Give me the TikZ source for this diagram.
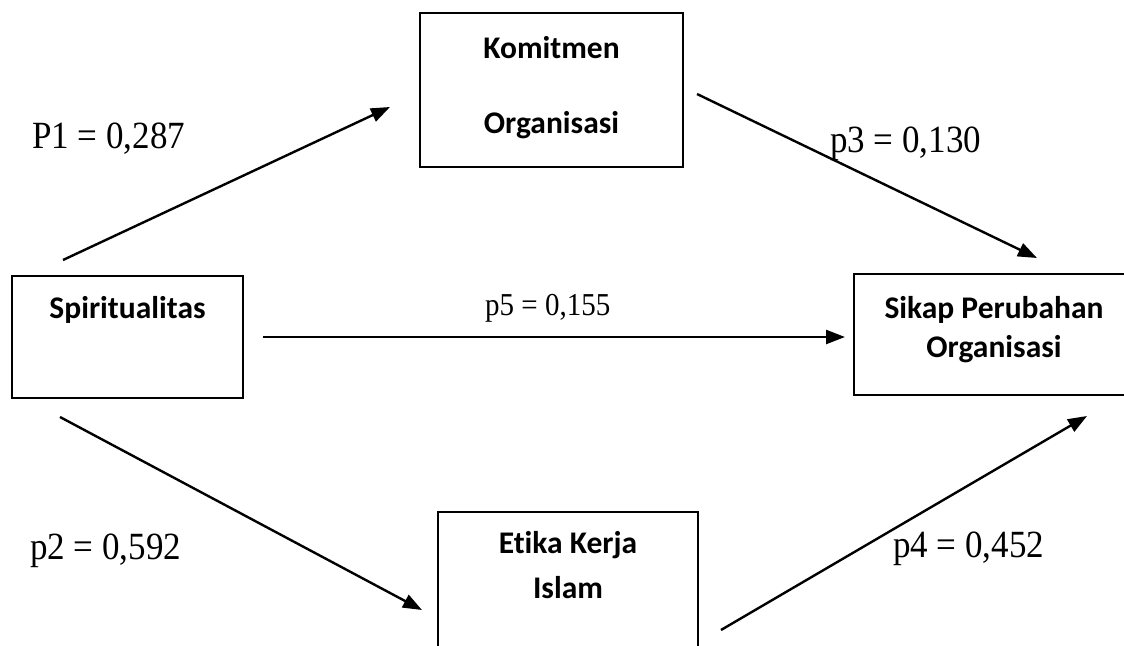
\documentclass[tikz,border=0pt]{standalone}
\usepackage{fontspec}
\usepackage{graphicx}
\setmainfont{Liberation Serif}
\newfontfamily\boxfont[Ligatures=NoCommon]{Carlito}
\usetikzlibrary{arrows.meta}
\newcommand{\tallcoef}[1]{\scalebox{1}[1.1]{#1}}
\begin{document}
\begin{tikzpicture}[x=1pt,y=-1pt,
  varbox/.style={draw,line width=2.6pt,rectangle,inner sep=0pt},
  boxtext/.style={anchor=base,inner sep=0pt,font=\boxfont\bfseries\fontsize{31.5}{36}\selectfont},
  coef/.style={anchor=base west,inner sep=0pt,font=\fontsize{35}{40}\selectfont},
  path/.style={line width=2.4pt,-{Triangle[length=19pt,width=14pt]}}]
\clip (0,0) rectangle (1124,645);
\fill[white] (0,0) rectangle (1124,645);
% boxes
\node[varbox,minimum width=263pt,minimum height=154pt] (kom) at (551.5,90) {};
\node[varbox,minimum width=231pt,minimum height=122pt] (spi) at (127.5,337) {};
\node[varbox,minimum width=280pt,minimum height=121pt] (sik) at (994,334.5) {};
\node[varbox,minimum width=260pt,minimum height=188pt] (eti) at (568,606) {};
% box texts
\node[boxtext] (komA) at (551.5,58) {Komitmen};
\node[boxtext] (komB) at (551.5,133) {Organisasi};
\node[boxtext] (spiA) at (127.5,318) {Spiritualitas};
\node[boxtext] (sikA) at (994,318) {Sikap Perubahan};
\node[boxtext] (sikB) at (994,357) {Organisasi};
\node[boxtext] (etiA) at (568,553) {Etika Kerja};
\node[boxtext] (etiB) at (568,598) {Islam};
% arrow endpoints
\coordinate (a1s) at (63,260);  \coordinate (a1e) at (390,107);
\coordinate (a3s) at (697,94);  \coordinate (a3e) at (1037,258);
\coordinate (a5s) at (263,337); \coordinate (a5e) at (845,337);
\coordinate (a2s) at (60,417);  \coordinate (a2e) at (422,610);
\coordinate (a4s) at (721,630); \coordinate (a4e) at (1087,416);
\draw[path] (a1s) -- (a1e);
\draw[path] (a3s) -- (a3e);
\draw[path] (a5s) -- (a5e);
\draw[path] (a2s) -- (a2e);
\draw[path] (a4s) -- (a4e);
% coefficients
\node[coef] (c1) at (32,148) {\tallcoef{P1 = 0,287}};
\node[coef] (c3) at (830,152) {\tallcoef{p3 = 0,130}};
\node[coef,font=\fontsize{29}{34}\selectfont] (c5) at (485,315) {\tallcoef{p5 = 0,155}};
\node[coef] (c2) at (30,559) {\tallcoef{p2 = 0,592}};
\node[coef] (c4) at (893,557) {\tallcoef{p4 = 0,452}};
\end{tikzpicture}
\end{document}
